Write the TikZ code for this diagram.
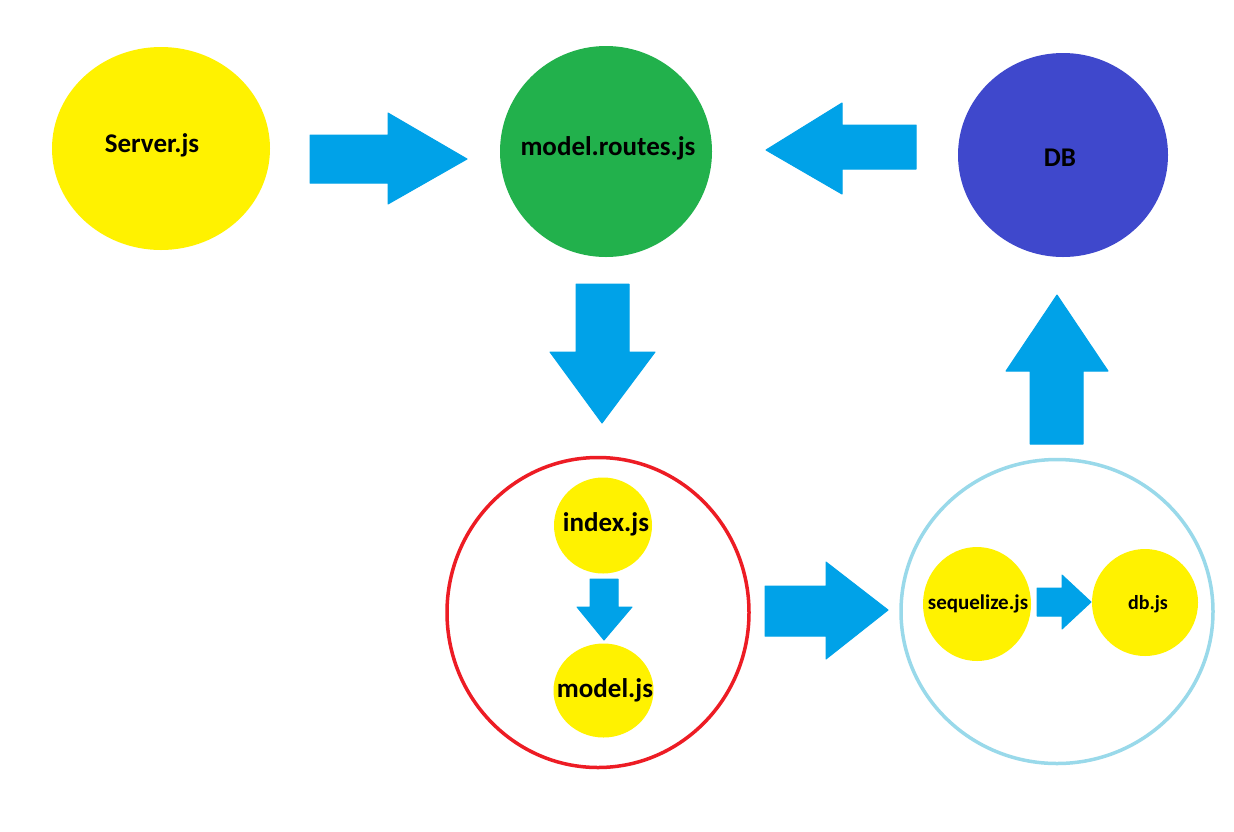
\documentclass[tikz,border=0pt]{standalone}
\usepackage{fontspec}
\setmainfont{Carlito}
\definecolor{cyel}{HTML}{FFF200}
\definecolor{cgreen}{HTML}{22B14C}
\definecolor{cblue}{HTML}{3F48CC}
\definecolor{carrow}{HTML}{00A2E8}
\definecolor{cred}{HTML}{ED1C24}
\definecolor{clblue}{HTML}{99D9EA}
\tikzset{
  lbl/.style={font=\fontsize{27}{30}\selectfont\bfseries, text=black, inner sep=0pt},
  slbl/.style={font=\fontsize{21}{24}\selectfont\bfseries, text=black, inner sep=0pt},
  blockarrow/.style={fill=carrow, draw=carrow, line width=1pt, line join=round},
}
\begin{document}
\begin{tikzpicture}[x=1pt,y=-1pt]
\useasboundingbox[fill=white] (0,0) rectangle (1234,831);
% big circles
\fill[cyel] (161,148.5) ellipse [x radius=109, y radius=101.5];
\fill[cgreen] (606,151.5) ellipse [x radius=106, y radius=105.5];
\fill[cblue] (1063,155) ellipse [x radius=105, y radius=102];
\draw[cred, line width=3.5pt] (598,612.5) ellipse [x radius=151, y radius=155];
\draw[clblue, line width=3.5pt] (1057,611.5) ellipse [x radius=156, y radius=152];
% small circles
\fill[cyel] (603,525.5) ellipse [x radius=49, y radius=48];
\fill[cyel] (603.5,690.5) ellipse [x radius=50, y radius=47];
\fill[cyel] (977,604) ellipse [x radius=54, y radius=57];
\fill[cyel] (1145,602.5) ellipse [x radius=53, y radius=53.5];
% labels
\node[lbl] (server) at (152,145) {Server.js};
\node[lbl] (routes) at (608,148) {model.routes.js};
\node[lbl] (db) at (1060,158) {DB};
\node[lbl] (index) at (606,524) {index.js};
\node[lbl] (model) at (605,690) {model.js};
\node[slbl] (seq) at (978,604) {sequelize.js};
\node[font=\fontsize{20}{23}\selectfont\bfseries, inner sep=0pt] (dbjs) at (1148,604) {db.js};
% arrows
% server -> routes
\filldraw[blockarrow] (310,135) -- (388,135) -- (388,113) -- (467,159) -- (388,204) -- (388,183) -- (310,183) -- cycle;
% DB -> routes
\filldraw[blockarrow] (916,125) -- (842,125) -- (842,103) -- (766,150) -- (842,194) -- (842,169) -- (916,169) -- cycle;
% routes -> red circle
\filldraw[blockarrow] (576,284) -- (629,284) -- (629,352) -- (655,352) -- (602,423) -- (550,352) -- (576,352) -- cycle;
% index -> model
\filldraw[blockarrow] (590,579) -- (618,579) -- (618,607) -- (632,607) -- (604,640) -- (577,607) -- (590,607) -- cycle;
% red -> lightblue
\filldraw[blockarrow] (765,586) -- (826,586) -- (826,562) -- (888,610) -- (826,659) -- (826,636) -- (765,636) -- cycle;
% sequelize -> db.js
\filldraw[blockarrow] (1037,588) -- (1062,588) -- (1062,575) -- (1091,602) -- (1062,629) -- (1062,616) -- (1037,616) -- cycle;
% lightblue -> DB
\filldraw[blockarrow] (1030,444) -- (1030,371) -- (1006,371) -- (1057,295) -- (1108,371) -- (1083,371) -- (1083,444) -- cycle;
\end{tikzpicture}
\end{document}
